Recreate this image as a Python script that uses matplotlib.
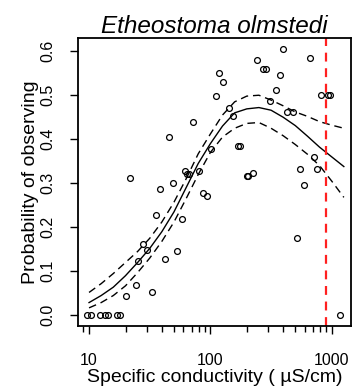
import numpy as np
import matplotlib
matplotlib.use("Agg")
import matplotlib.pyplot as plt
from matplotlib.ticker import FixedLocator, NullFormatter, FixedFormatter

plt.rcParams['font.family'] = ['Liberation Sans', 'DejaVu Sans']

# observed points (conductivity in uS/cm, probability)
obs_x = [9.7, 10.3, 12.3, 13.6, 14.2, 17.0, 18.0, 1170,
         20.0, 21.8, 24.3, 25.5, 27.7, 29.9, 33.2, 35.5, 38.5, 42.4, 45.7, 49.0,
         52.8, 58.0, 62.0, 64.0, 67.0, 72.4, 80.7, 86.5, 93.3, 100.7,
         111, 118.6, 128, 143.5, 155, 170, 175, 200, 206, 225,
         241, 274, 290, 309, 347, 376, 400, 426, 477, 515,
         549, 590, 663, 708, 762, 813, 930, 970]
obs_y = [0, 0, 0, 0, 0, 0, 0, 0,
         0.045, 0.312, 0.069, 0.123, 0.163, 0.148, 0.053, 0.229, 0.288, 0.129, 0.406, 0.300,
         0.147, 0.219, 0.327, 0.322, 0.320, 0.440, 0.329, 0.279, 0.272, 0.378,
         0.499, 0.551, 0.530, 0.470, 0.453, 0.385, 0.385, 0.317, 0.317, 0.323,
         0.580, 0.559, 0.559, 0.487, 0.512, 0.546, 0.606, 0.461, 0.461, 0.176,
         0.333, 0.295, 0.585, 0.359, 0.333, 0.500, 0.500, 0.500]

# fitted curve and confidence band (log10 conductivity)
fit_logx = [1.0, 1.1, 1.2, 1.3, 1.4, 1.5, 1.6, 1.7, 1.8, 1.9, 2.0,
            2.1, 2.2, 2.3, 2.4, 2.5, 2.6, 2.7, 2.8, 2.9, 3.0, 3.1]
fit_mean = [0.029, 0.045, 0.064, 0.090, 0.120, 0.152, 0.190, 0.235, 0.290, 0.345, 0.390,
            0.430, 0.460, 0.469, 0.472, 0.466, 0.450, 0.431, 0.407, 0.382, 0.360, 0.338]
fit_upper = [0.052, 0.072, 0.095, 0.120, 0.145, 0.175, 0.212, 0.257, 0.310, 0.367, 0.412,
             0.455, 0.485, 0.498, 0.500, 0.489, 0.476, 0.462, 0.452, 0.440, 0.432, 0.425]
fit_lower = [0.017, 0.029, 0.045, 0.067, 0.097, 0.130, 0.168, 0.212, 0.265, 0.320, 0.370,
             0.405, 0.425, 0.436, 0.438, 0.425, 0.408, 0.388, 0.366, 0.340, 0.305, 0.268]

threshold = 890

major_ticks = [10, 100, 1000]
major_labels = ["10", "100", "1000"]
minor_ticks = [9, 20, 30, 40, 50, 60, 70, 80, 90, 200, 300, 400, 500, 600, 700, 800, 900]
y_ticks = [0.0, 0.1, 0.2, 0.3, 0.4, 0.5, 0.6]
y_labels = ["0.0", "0.1", "0.2", "0.3", "0.4", "0.5", "0.6"]

fig = plt.figure(figsize=(3.52, 3.91), dpi=100)
ax = fig.add_axes([78/352, 1-326/391, (351-78)/352, (326-38)/391])

ax.set_xscale('log')
ax.plot(obs_x, obs_y, 'o', mfc='none', mec='black', ms=4.2, mew=0.9, clip_on=False, zorder=3)
fx = 10 ** np.array(fit_logx)
ax.plot(fx, fit_mean, '-', color='black', lw=1.0)
ax.plot(fx, fit_upper, color='black', lw=1.0, dashes=(5.5, 3.5))
ax.plot(fx, fit_lower, color='black', lw=1.0, dashes=(5.5, 3.5))
ax.axvline(threshold, color='#ff2020', lw=1.6, dashes=(4, 3))

ax.set_xlim(10**0.909, 10**3.159)
ax.set_ylim(-0.0242, 0.630)

ax.xaxis.set_major_locator(FixedLocator(major_ticks))
ax.xaxis.set_major_formatter(FixedFormatter(major_labels))
ax.xaxis.set_minor_locator(FixedLocator(minor_ticks))
ax.xaxis.set_minor_formatter(NullFormatter())
ax.set_yticks(y_ticks)
ax.set_yticklabels(y_labels, rotation=90, va='center')

ax.tick_params(axis='both', which='major', length=6, width=1.0, direction='out',
               labelsize=11.5)
ax.tick_params(axis='x', which='major', pad=13.5)
ax.tick_params(axis='y', which='major', pad=10)
ax.tick_params(axis='x', which='minor', length=4.5, width=1.0, direction='out')
for s in ax.spines.values():
    s.set_linewidth(1.3)

ax.set_title("Etheostoma olmstedi", fontsize=17.5, style='italic', pad=1)
ax.set_xlabel("Specific conductivity ( \u00b5S/cm)", fontsize=14, labelpad=1)
ax.set_ylabel("Probability of observing", fontsize=14, labelpad=1)

fig.savefig("out.png", dpi=100)
